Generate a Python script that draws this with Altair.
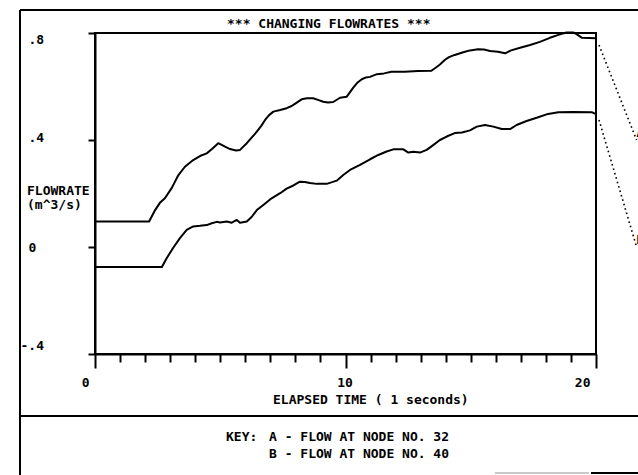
import altair as alt
import pandas as pd

# ---------------- text ----------------
TITLE = "*** CHANGING FLOWRATES ***"
X_TITLE = "ELAPSED TIME ( 1 seconds)"
Y_TITLE_1 = "FLOWRATE"
Y_TITLE_2 = "(m^3/s)"
KEY_HEAD = "KEY:"
KEY_A = "A - FLOW AT NODE NO. 32"
KEY_B = "B - FLOW AT NODE NO. 40"
SERIES = ["A", "B"]

# ---------------- ticks ----------------
X_TICKS = list(range(0, 21))
Y_TICKS = [-0.4, 0.0, 0.4, 0.8]

# ---------------- series values ----------------
TIME_A = [0.00, 2.16, 2.40, 2.59, 2.79, 3.06, 3.33, 3.59, 3.92, 4.19, 4.46, 4.67, 4.92, 5.19,
          5.39, 5.63, 5.79, 6.06, 6.27, 6.46, 6.63, 6.79, 6.95, 7.12, 7.39, 7.65, 7.85, 7.98,
          8.25, 8.46, 8.71, 8.90, 9.11, 9.30, 9.51, 9.78, 10.05, 10.31, 10.46, 10.65, 10.82,
          10.98, 11.25, 11.54, 11.83, 12.36, 12.89, 13.43, 13.64, 13.77, 13.96, 14.13, 14.36,
          14.70, 14.97, 15.29, 15.53, 15.77, 16.09, 16.37, 16.61, 16.97, 17.37, 17.76, 18.16,
          18.56, 18.83, 19.09, 19.24, 19.44, 20.00]
FLOW_A = [0.095, 0.095, 0.138, 0.165, 0.182, 0.220, 0.269, 0.300, 0.325, 0.340, 0.350, 0.366,
          0.388, 0.375, 0.366, 0.361, 0.363, 0.388, 0.411, 0.431, 0.452, 0.475, 0.493, 0.506,
          0.512, 0.519, 0.527, 0.535, 0.552, 0.556, 0.556, 0.550, 0.543, 0.540, 0.542, 0.558,
          0.562, 0.596, 0.613, 0.627, 0.634, 0.636, 0.646, 0.649, 0.655, 0.655, 0.658, 0.659,
          0.673, 0.682, 0.699, 0.710, 0.718, 0.728, 0.735, 0.739, 0.738, 0.733, 0.730, 0.724,
          0.735, 0.745, 0.755, 0.767, 0.782, 0.795, 0.802, 0.802, 0.795, 0.782, 0.780]

TIME_B = [0.00, 2.67, 2.86, 3.13, 3.39, 3.66, 3.92, 4.19, 4.46, 4.66, 4.86, 4.99, 5.26, 5.46,
          5.66, 5.79, 6.06, 6.26, 6.46, 6.72, 7.05, 7.39, 7.65, 7.92, 8.18, 8.38, 8.58, 8.85,
          9.25, 9.65, 9.91, 10.18, 10.58, 10.98, 11.31, 11.64, 11.91, 12.31, 12.51, 12.71,
          12.97, 13.24, 13.50, 13.77, 14.04, 14.36, 14.65, 14.97, 15.24, 15.57, 15.90, 16.24,
          16.57, 16.83, 17.23, 17.63, 18.03, 18.50, 19.09, 19.83, 20.00]
FLOW_B = [-0.075, -0.075, -0.042, -0.002, 0.033, 0.064, 0.077, 0.079, 0.082, 0.089, 0.094,
          0.092, 0.095, 0.091, 0.101, 0.091, 0.095, 0.113, 0.138, 0.157, 0.182, 0.201, 0.218,
          0.230, 0.244, 0.243, 0.239, 0.236, 0.236, 0.248, 0.269, 0.288, 0.307, 0.328, 0.344,
          0.357, 0.365, 0.365, 0.353, 0.356, 0.353, 0.363, 0.381, 0.400, 0.413, 0.426, 0.428,
          0.436, 0.450, 0.456, 0.450, 0.441, 0.441, 0.456, 0.471, 0.483, 0.496, 0.504, 0.505,
          0.504, 0.497]

# leader (dotted) lines from series ends to their labels
LEADER_START_TIME = 20.12
LABEL_TIME = 21.62
LEADER_A_FLOW = [0.755, 0.40]
LEADER_B_FLOW = [0.475, 0.00]

# ---------------- tables ----------------
curves = pd.DataFrame({
    "series": [SERIES[0]] * len(TIME_A) + [SERIES[1]] * len(TIME_B),
    "time": TIME_A + TIME_B,
    "flow": FLOW_A + FLOW_B,
})
leaders = pd.DataFrame({
    "series": [SERIES[0], SERIES[0], SERIES[1], SERIES[1]],
    "time": [LEADER_START_TIME, LABEL_TIME, LEADER_START_TIME, LABEL_TIME],
    "flow": LEADER_A_FLOW + LEADER_B_FLOW,
})
leader_labels = pd.DataFrame({
    "series": SERIES,
    "time": [LABEL_TIME, LABEL_TIME],
    "flow": [LEADER_A_FLOW[1], LEADER_B_FLOW[1]],
})

FONT = "DejaVu Sans Mono"
FS = 13

Y_LABEL_EXPR = ("(datum.value < 0 ? '-' : '') + (datum.value == 0 ? '0' : "
                "replace(format(abs(datum.value), '.1f'), '0.', '.'))")

x_enc = alt.X(
    "time:Q",
    scale=alt.Scale(domain=[0, 20], nice=False, zero=False),
    axis=alt.Axis(
        values=X_TICKS, title=None, grid=False,
        domainColor="black", domainWidth=2,
        tickColor="black", tickWidth=2,
        tickSize={"condition": {"test": "datum.value % 10 == 0", "value": 14}, "value": 8},
        labelExpr="datum.value % 10 == 0 ? datum.label : ''",
        labelAlign={"condition": {"test": "datum.value == 10", "value": "center"}, "value": "right"},
        labelOffset={"condition": {"test": "datum.value == 10", "value": -1}, "value": -6},
        labelBaseline="middle", labelPadding=14,
        labelFont=FONT, labelFontSize=FS, labelFontWeight="bold", labelColor="black",
        labelFlush=False, labelOverlap=False,
    ),
)
y_enc = alt.Y(
    "flow:Q",
    scale=alt.Scale(domain=[-0.4, 0.8], nice=False, zero=False),
    axis=alt.Axis(
        values=Y_TICKS, title=None, grid=False,
        domainColor="black", domainWidth=2,
        tickColor="black", tickWidth=2, tickSize=7,
        labelExpr=Y_LABEL_EXPR,
        labelAlign="left", labelBaseline="middle",
        labelPadding={"condition": {"test": "datum.value < 0", "value": 68}, "value": 60},
        labelOffset={"condition": [
            {"test": "datum.value > 0.7", "value": 6},
            {"test": "datum.value < -0.3", "value": -9},
            {"test": "datum.value > 0.3", "value": -3},
        ], "value": 0},
        labelFont=FONT, labelFontSize=FS, labelFontWeight="bold", labelColor="black",
        labelFlush=False, labelOverlap=False,
    ),
)

lines = alt.Chart(curves).mark_line(color="black", strokeWidth=2, strokeJoin="round").encode(
    x=x_enc, y=y_enc, detail="series:N"
)
leader_lines = alt.Chart(leaders).mark_line(
    color="black", strokeWidth=1.6, strokeDash=[1.6, 3]
).encode(x=x_enc, y=y_enc, detail="series:N")
leader_text = alt.Chart(leader_labels).mark_text(
    font=FONT, fontSize=FS, fontWeight="bold", align="left", baseline="bottom", color="black"
).encode(x=x_enc, y=y_enc, text="series:N")


def text_layer(s, px, py, align="left"):
    return alt.Chart(pd.DataFrame({"s": [s]})).mark_text(
        font=FONT, fontSize=FS, fontWeight="bold", align=align, baseline="middle", color="black"
    ).encode(text="s:N", x=alt.value(px), y=alt.value(py))


def rule(x1, x2, y1, y2, color="black", w=2):
    return alt.Chart(pd.DataFrame({"k": [0]})).mark_rule(color=color, strokeWidth=w).encode(
        x=alt.value(x1), x2=alt.value(x2), y=alt.value(y1), y2=alt.value(y2)
    )


frame = [
    rule(-75, -75, -23, 442),      # outer left border
    rule(-75, 543, -23, -23),      # outer top border
    rule(-75, 543, 383, 383),      # divider above key
    rule(400, 494, 440, 440, color="#c8c8c8"),
    rule(496, 543, 440, 440),
]
texts = [
    text_layer(TITLE, 132, -9.5),
    text_layer(X_TITLE, 178, 367),
    text_layer(Y_TITLE_1, -68, 158),
    text_layer(Y_TITLE_2, -68, 172),
    text_layer(KEY_HEAD, 131, 404),
    text_layer(KEY_A, 174, 404),
    text_layer(KEY_B, 174, 421),
]

chart = alt.layer(*frame, lines, leader_lines, leader_text, *texts).properties(
    width=501,
    height=321,
    padding={"left": 95, "top": 33, "right": 42, "bottom": 121},
    autosize=alt.AutoSizeParams(type="none"),
    background="white",
).configure_view(stroke="black", strokeWidth=2)

chart.save("out.html", embed_options={"renderer": "svg", "actions": False})
